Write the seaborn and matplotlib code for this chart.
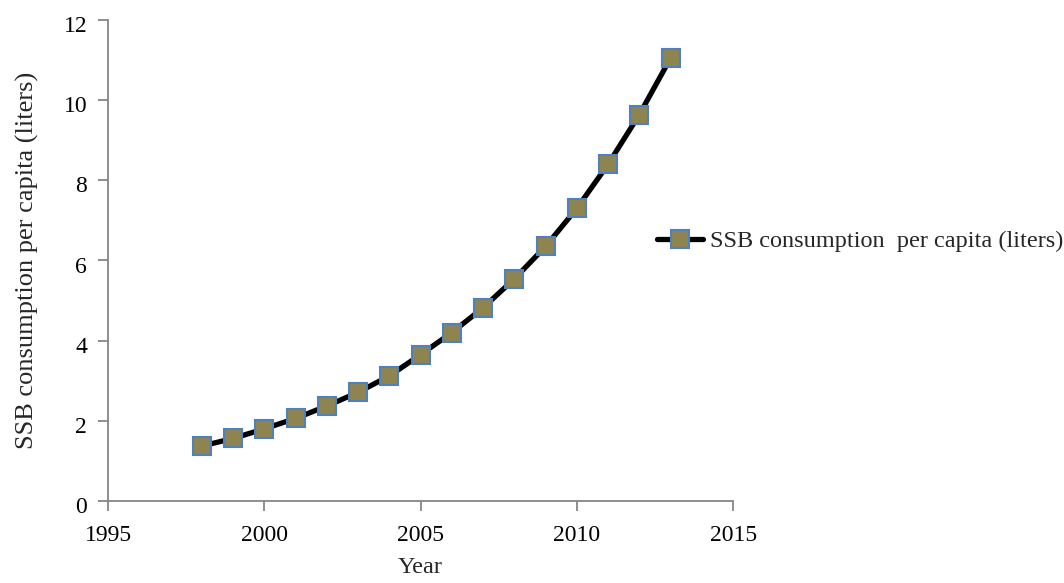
import seaborn as sns
import matplotlib.pyplot as plt
import matplotlib.transforms as mtransforms
import pandas as pd

# SSB consumption per capita
years = [1998, 1999, 2000, 2001, 2002, 2003, 2004, 2005,
         2006, 2007, 2008, 2009, 2010, 2011, 2012, 2013]
liters = [1.37, 1.56, 1.80, 2.06, 2.37, 2.71, 3.12, 3.65,
          4.20, 4.82, 5.54, 6.35, 7.30, 8.40, 9.64, 11.05]
series_name = "SSB consumption  per capita (liters)"

df = pd.DataFrame({"Year": years, "value": liters, "series": series_name})

sns.set_theme(style="ticks")
plt.rcParams['font.family'] = ['Liberation Serif', 'DejaVu Serif']

fig = plt.figure(figsize=(10.64, 5.83), dpi=100)
ax = fig.add_axes([0.1015, 0.1407, 0.5875, 0.825])

sns.lineplot(data=df, x="Year", y="value", hue="series",
             palette=["black"], linewidth=3.8,
             marker="s", markersize=13, markerfacecolor="#8E8450",
             markeredgecolor="#4F81BD", markeredgewidth=1.5, ax=ax)

ax.set_xlim(1995, 2015)
ax.set_ylim(0, 12)
ax.set_xticks([1995, 2000, 2005, 2010, 2015])
ax.set_yticks([0, 2, 4, 6, 8, 10, 12])

for side in ["top", "right"]:
    ax.spines[side].set_visible(False)
for side in ["left", "bottom"]:
    ax.spines[side].set_color("#868686")
    ax.spines[side].set_linewidth(1.3)
ax.tick_params(colors="#868686", labelcolor="black", length=7, width=1.3,
               labelsize=17, direction="out")
ax.tick_params(axis="x", pad=10)
ax.tick_params(axis="y", pad=8)

# y labels sit a touch below their ticks, like in the original
shift = mtransforms.ScaledTranslation(0, -3 / 72, fig.dpi_scale_trans)
for lab in ax.get_yticklabels():
    lab.set_transform(lab.get_transform() + shift)

ax.set_xlabel("Year", fontsize=17.5, labelpad=8)
ax.set_ylabel("SSB consumption per capita (liters)", fontsize=19, labelpad=18)

# legend out to the right of the plot
ax.legend(loc="center left", bbox_to_anchor=(657 / 1064, 1 - 241 / 583),
          bbox_transform=fig.transFigure, frameon=False, fontsize=17.5,
          borderpad=0, borderaxespad=0, handlelength=1.9, handletextpad=0.3)

plt.savefig("out.png", format="png", dpi=100)
